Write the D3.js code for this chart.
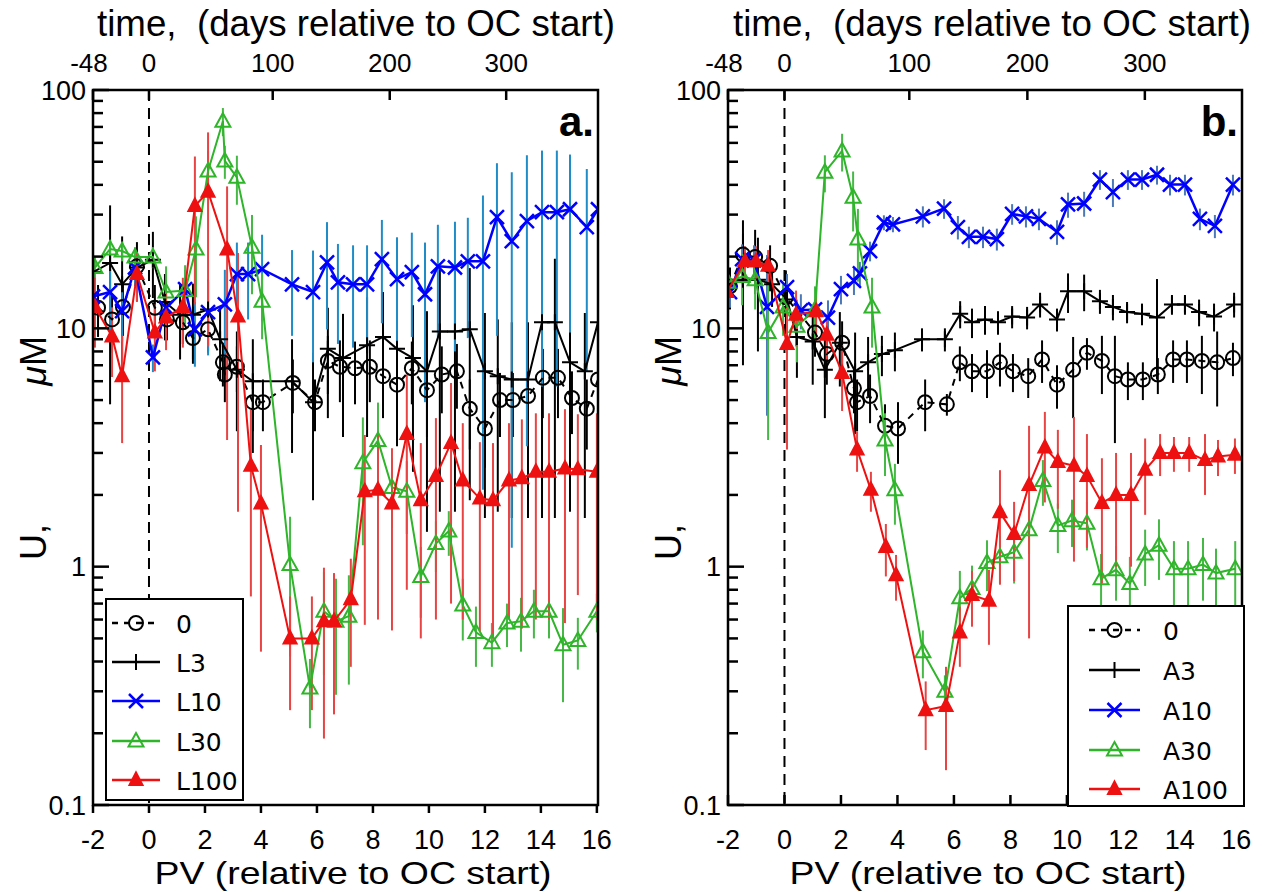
<!DOCTYPE html>
<html>
<head>
<meta charset="utf-8">
<script src="https://cdn.jsdelivr.net/npm/d3@7"></script>
<style>
  body { margin: 0; background: #fff; }
  text { font-family: "Liberation Sans", Arial, Helvetica, sans-serif; }
</style>
</head>
<body>
<div id="chart"></div>
<script>
// ---- axis ticks ----
const xTicks = [-2, 0, 2, 4, 6, 8, 10, 12, 14, 16];
const yTicks = [0.1, 1, 10, 100];
const yTickLabels = ["0.1", "1", "10", "100"];
const topDays = [-48, 0, 100, 200, 300];
const topPV = [-2, 0, 4.42, 8.6, 12.76];

// ---- panel a ----
const pvA0 = [-1.82,-1.32,-0.93,-0.43,0.21,0.64,1.21,1.57,2.11,2.64,2.71,3.14,3.71,4.07,5.14,5.93,6.39,6.82,7.36,7.89,8.36,8.86,9.39,9.93,10.46,11.0,11.46,12.0,12.54,13.0,13.54,14.07,14.61,15.11,15.64,16.04];
const uA0  = [12.2,10.9,12.3,18.2,12.2,10.9,10.6,9.1,9.9,7.2,6.4,6.9,4.9,4.9,5.9,4.9,7.3,6.9,6.8,6.9,6.3,5.8,6.8,5.5,6.4,6.6,4.6,3.8,5.0,5.0,5.2,6.2,6.2,5.1,4.6,6.1];
const errA0 = [3,3,3,3,3,2,2,2,2,1.5,1.5,1.5,1.2,1.2,1.5,1.2,2,2,2,2,2,2,2,2,2,2,1.5,1.2,1.5,1.5,1.5,2,2,1.5,1.5,2];

const pvA3 = [-2.0,-1.39,-0.96,-0.43,0.14,0.57,1.11,1.57,2.11,2.54,3.14,3.71,5.11,5.86,6.39,6.93,7.79,8.36,8.86,9.43,9.93,10.39,10.93,11.46,12.0,12.46,12.96,13.54,14.04,14.5,15.04,15.57,16.04];
const uA3  = [17.2,18.8,15.3,18,19.4,12.9,11.4,11.4,12,9.0,6.7,6.0,6.0,4.9,8.2,7.5,8.5,9.2,8.2,7.5,6.6,9.7,9.7,9.9,6.6,6.3,6.1,6.1,10.6,10.6,7.2,6.6,10.6];
const errA3 = [5,14,9,5,6,4,4,4,4,3,3,3,3,3,4,4,5,5,5,5,5.2,8,8,8,5,4.6,4.5,4.5,9,9,5.5,5,9];

const pvA10 = [-2.0,-1.39,-0.96,-0.5,0.14,0.61,1.29,1.64,2.11,2.71,3.14,3.54,4.04,5.11,5.86,6.36,6.75,7.29,7.79,8.32,8.86,9.39,9.86,10.32,10.93,11.39,11.93,12.43,12.96,13.5,14.04,14.57,15.04,15.64,16.04];
const uA10  = [13.6,14.2,11.8,18.0,7.55,12.2,14.6,9.9,11.7,12.6,16.9,16.9,17.7,15.3,14.2,18.9,15.6,15.3,15.3,19.5,16.1,17.2,13.9,18.2,18.0,19.1,19.1,29.3,23.2,28.2,30.7,30.7,31.6,26.6,31.6];
const errA10 = [4,5,3,3,1,3,3,3,4,5,6,6,7,6,7,9,7,7,7,9,8,8,9,9,10,10,17,20,22,25,25,25,22,20,25];

const pvA30 = [-1.93,-1.39,-0.96,-0.5,0.14,0.61,1.29,1.68,2.11,2.64,2.71,3.14,3.68,4.04,5.04,5.75,6.25,6.68,7.14,7.64,8.18,8.68,9.21,9.71,10.25,10.71,11.21,11.68,12.25,12.79,13.29,13.75,14.29,14.79,15.32,16.0];
const uA30  = [18.0,21.5,21.1,19.9,19.9,14.2,14.4,21.5,45.7,74,50.4,43,21.9,13.0,1.02,0.31,0.65,0.59,0.62,2.73,3.38,2.15,2.07,0.91,1.25,1.41,0.69,0.53,0.48,0.58,0.59,0.65,0.65,0.47,0.49,0.65];
const errA30 = [2,2,2,2,2,4,4,8,10,10,8,10,8,4,0.6,0.1,0.3,0.3,0.3,1.5,1.5,0.7,0.7,0.3,0.3,0.3,0.2,0.15,0.1,0.12,0.15,0.15,0.15,0.2,0.12,0.12];

const pvA100 = [-1.93,-1.32,-0.96,-0.43,0.21,0.61,1.21,1.64,2.11,2.79,3.18,3.64,4.0,5.04,5.82,6.25,6.61,7.21,7.71,8.18,8.68,9.21,9.71,10.25,10.79,11.21,11.82,12.29,12.86,13.32,13.82,14.29,14.86,15.32,16.0];
const uA100  = [12.3,9.25,6.3,16.9,9.6,11.1,12.3,32.6,37.4,21.4,11.2,2.65,1.84,0.50,0.50,0.59,0.59,0.73,2.07,2.1,1.84,3.6,1.9,2.4,3.3,2.3,1.93,1.9,2.3,2.35,2.5,2.5,2.58,2.56,2.5];
const errA100 = [4,3,3,4,3,3,4,20,29,18,9.5,1.9,1.4,0.25,0.25,0.4,0.35,0.35,1.5,1.5,1.3,2.8,1.4,1.8,2.6,1.7,1.4,1.4,1.7,1.8,1.9,1.9,2.0,1.8,1.9];

// ---- panel b ----
const pvB0 = [-1.93,-1.47,-1.04,-0.51,0.05,1.08,1.5,2.04,2.46,2.57,3.03,3.56,4.02,4.98,5.75,6.21,6.64,7.17,7.63,8.09,8.63,9.12,9.65,10.22,10.71,11.24,11.7,12.16,12.69,13.22,13.76,14.25,14.78,15.32,15.88];
const uB0  = [15.0,20.4,19.9,18.3,13.5,9.6,7.8,8.7,5.6,4.9,5.2,3.9,3.8,4.9,4.8,7.2,6.6,6.6,7.2,6.6,6.3,7.4,5.8,6.7,7.9,7.3,6.3,6.1,6.1,6.4,7.4,7.4,7.3,7.2,7.5];
const errB0 = [3,8,6,4,4,2,2,2,1.2,1.2,1.2,0.9,1.1,1.2,0.5,1.2,1.2,1.5,1.5,1.2,1.2,1.5,1.2,2.5,1.2,2,3,1.1,1.1,1.1,1.5,1.5,2,2.5,1.2];

const pvB3 = [-2.0,-1.47,-0.94,-0.44,0.09,0.44,1.0,1.43,1.96,2.5,2.96,3.45,3.91,4.87,5.68,6.22,6.64,7.1,7.56,8.06,8.59,9.05,9.65,10.04,10.61,11.17,11.63,12.13,12.66,13.19,13.72,14.18,14.68,15.21,15.92];
const uB3  = [15.3,16.0,16.0,15.3,13.2,9.2,8.8,6.7,8.7,6.6,7.2,7.8,8.1,9.0,9.0,11.5,10.6,10.9,10.6,11.2,11.1,12.6,10.9,14.3,14.3,13.0,12.3,11.7,11.5,11.1,12.6,12.6,11.7,11.2,12.6];
const errB3 = [3,9,8,3,3,3,3,2.5,3,3,2,1.5,1.5,1,1,1.5,1.5,1.5,1.2,1.2,1.2,1.5,1.2,2.7,2.5,1.5,1.5,1.2,1.2,5,1.2,1.2,1.5,1.5,1.5];

const pvB10 = [-1.93,-1.5,-1.08,-0.62,0.09,0.58,1.08,1.54,2.0,2.46,2.67,3.03,3.52,3.84,4.9,5.65,6.14,6.53,7.03,7.52,8.06,8.55,9.01,9.65,10.04,10.61,11.17,11.63,12.16,12.66,13.19,13.65,14.18,14.71,15.24,15.88];
const uB10  = [14.2,19.5,19.3,12.3,14.9,11.9,12.0,11.1,14.6,15.8,17.0,21.1,27.8,27.3,29.5,31.8,26.6,24.2,24.2,23.7,30.2,29.5,28.8,25.4,33.1,33.4,42.1,37.3,42.1,42.1,44.1,40.1,40.1,28.8,26.9,40.1];
const errB10 = [2,3,3,8,2,2,2,2,2,2,2,2,2,2,3,3,3,2.5,2.5,2.5,3,3,3,3,4,4,4,5,4,4,4,4,4,3,3,4];

const pvB30 = [-2.0,-1.5,-1.04,-0.58,-0.05,0.44,1.08,1.43,2.04,2.43,2.6,3.1,3.56,3.91,4.9,5.68,6.21,6.64,7.17,7.63,8.13,8.66,9.15,9.68,10.18,10.71,11.21,11.74,12.23,12.77,13.26,13.79,14.29,14.82,15.28,15.96];
const uB30  = [15.6,16.5,16.0,9.6,12.3,10.2,12.0,45.2,55.5,35.5,23.7,12.3,3.4,2.1,0.44,0.30,0.74,0.81,1.04,1.1,1.15,1.43,2.3,1.49,1.56,1.52,0.89,0.97,0.85,1.13,1.23,0.98,0.98,1.02,0.94,0.98];
const errB30 = [3,4,4,6.2,3,3,3,8,10,10,8,4,1,0.6,0.1,0.05,0.22,0.2,0.25,0.25,0.3,0.3,0.5,0.35,0.35,0.35,0.24,0.25,0.25,0.3,0.35,0.3,0.3,0.3,0.25,0.3];

const pvB100 = [-2.04,-1.4,-1.01,-0.58,0.09,0.41,1.12,1.5,2.04,2.57,3.06,3.59,3.95,5.0,5.72,6.21,6.64,7.24,7.63,8.13,8.66,9.22,9.68,10.25,10.71,11.24,11.74,12.27,12.77,13.3,13.79,14.33,14.89,15.35,15.95];
const uB100  = [14.2,19.1,19.1,18.3,8.6,11.4,11.8,9.4,6.5,3.1,2.1,1.21,0.92,0.25,0.26,0.53,0.76,0.72,1.69,1.37,2.2,3.16,2.75,2.65,2.4,1.85,2.0,2.0,2.55,3.0,3.0,3.0,2.8,2.9,2.95];
const errB100 = [3,3,3,3,5.5,3,3,2,2,0.6,0.4,0.3,0.2,0.08,0.12,0.15,0.2,0.25,0.85,0.5,1.7,1.3,1.0,1.6,1.2,1.0,1.0,1.0,0.9,0.6,0.5,0.5,0.8,0.5,0.5];

// ---- styles ----
const markerPath = {
  plus: "M-8,0H8M0,-8V8",
  cross: "M-7,-7L7,7M-7,7L7,-7",
  triOpen: "M0,-8L7.5,5.5L-7.5,5.5Z",
  triFill: "M0,-7.5L6.5,5L-6.5,5Z"
};

function mkSeries(names, pvs, us, errs, barColors) {
  const lineColors = ["#000", "#000", "#0000ff", "#2fb52a", "#ee1111"];
  const markers = ["circle", "plus", "cross", "triOpen", "triFill"];
  return names.map((n, i) => ({
    name: n, pv: pvs[i], u: us[i], err: errs[i],
    line: lineColors[i], bar: barColors[i], marker: markers[i],
    dash: i === 0 ? "7,6" : null
  }));
}

const panels = [
  {
    x0: 93, x1: 598, dom: [-2, 16.04], label: "a.", tickOut: true,
    titleX: 97, xTitleX: 353,
    series: mkSeries(["0", "L3", "L10", "L30", "L100"],
      [pvA0, pvA3, pvA10, pvA30, pvA100], [uA0, uA3, uA10, uA30, uA100],
      [errA0, errA3, errA10, errA30, errA100],
      ["#000", "#000", "#1f8cc8", "#45b845", "#e84444"]),
    legend: {x: 106, y: 599, w: 137, h: 201, rowY: [623, 662, 701, 741, 780], lx0: 112, lx1: 160, tx: 176}
  },
  {
    x0: 728, x1: 1242, dom: [-2, 16.2], label: "b.", tickOut: false,
    titleX: 733, xTitleX: 988,
    series: mkSeries(["0", "A3", "A10", "A30", "A100"],
      [pvB0, pvB3, pvB10, pvB30, pvB100], [uB0, uB3, uB10, uB30, uB100],
      [errB0, errB3, errB10, errB30, errB100],
      ["#000", "#000", "#4a78b8", "#45b845", "#e84444"]),
    legend: {x: 1068, y: 606, w: 176, h: 200, rowY: [630, 670, 710, 750, 789], lx0: 1089, lx1: 1140, tx: 1163}
  }
];

const W = 1270, H = 892, plotTop = 90, plotBottom = 805;
const svg = d3.select("#chart").append("svg").attr("width", W).attr("height", H);

const y = d3.scaleLog().domain([0.1, 100]).range([plotBottom, plotTop]);

function drawMarker(g, type, color, cx, cy) {
  if (type === "circle") {
    g.append("circle").attr("cx", cx).attr("cy", cy).attr("r", 7)
      .attr("fill", "none").attr("stroke", color).attr("stroke-width", 2);
  } else {
    g.append("path").attr("d", markerPath[type])
      .attr("transform", `translate(${cx},${cy})`)
      .attr("fill", type === "triFill" ? color : "none")
      .attr("stroke", color).attr("stroke-width", type === "cross" ? 2.5 : 2)
      .attr("stroke-linejoin", "miter");
  }
}

panels.forEach((p, pi) => {
  const x = d3.scaleLinear().domain(p.dom).range([p.x0, p.x1]);
  const g = svg.append("g");

  const clipId = "clip" + pi;
  svg.append("clipPath").attr("id", clipId).append("rect")
    .attr("x", p.x0).attr("y", plotTop).attr("width", p.x1 - p.x0).attr("height", plotBottom - plotTop);

  // OC start line
  g.append("line").attr("x1", x(0)).attr("x2", x(0)).attr("y1", plotTop).attr("y2", plotBottom)
    .attr("stroke", "#000").attr("stroke-width", 2).attr("stroke-dasharray", "11,7");

  const data = g.append("g").attr("clip-path", `url(#${clipId})`);

  // error bars
  p.series.forEach(s => {
    s.pv.forEach((v, i) => {
      const lo = Math.max(s.u[i] - s.err[i], 0.1), hi = s.u[i] + s.err[i];
      data.append("line").attr("x1", x(v)).attr("x2", x(v))
        .attr("y1", y(lo)).attr("y2", y(hi))
        .attr("stroke", s.bar).attr("stroke-width", 2);
    });
  });

  // lines + markers
  p.series.forEach(s => {
    const pts = s.pv.map((v, i) => [v, s.u[i]]);
    data.append("path").datum(pts)
      .attr("d", d3.line().x(d => x(d[0])).y(d => y(d[1])))
      .attr("fill", "none").attr("stroke", s.line)
      .attr("stroke-width", s.name.endsWith("10") ? 2.5 : 2)
      .attr("stroke-dasharray", s.dash);
    pts.forEach(d => drawMarker(data, s.marker, s.line, x(d[0]), y(d[1])));
  });

  // frame
  g.append("rect").attr("x", p.x0).attr("y", plotTop).attr("width", p.x1 - p.x0).attr("height", plotBottom - plotTop)
    .attr("fill", "none").attr("stroke", "#000").attr("stroke-width", 2.5);

  // y ticks (log, inward)
  y.ticks(30).forEach(t => {
    const major = yTicks.some(m => Math.abs(m - t) < 1e-9);
    g.append("line").attr("x1", p.x0).attr("x2", p.x0 + (major ? 16 : 10))
      .attr("y1", y(t)).attr("y2", y(t)).attr("stroke", "#000").attr("stroke-width", 2.5);
  });
  yTicks.forEach((t, i) => {
    g.append("text").attr("x", p.x0 - 7).attr("y", y(t)).attr("dy", "0.36em")
      .attr("text-anchor", "end").style("font-size", "27px").text(yTickLabels[i]);
  });

  // bottom ticks
  xTicks.forEach(t => {
    g.append("line").attr("x1", x(t)).attr("x2", x(t))
      .attr("y1", plotBottom).attr("y2", p.tickOut ? plotBottom + 8 : plotBottom - 10)
      .attr("stroke", "#000").attr("stroke-width", 2.5);
    g.append("text").attr("x", x(t)).attr("y", 849).attr("text-anchor", "middle")
      .style("font-size", "27px").text(t);
  });

  // top ticks (days)
  topPV.forEach((t, i) => {
    g.append("line").attr("x1", x(t)).attr("x2", x(t)).attr("y1", plotTop).attr("y2", plotTop + 10)
      .attr("stroke", "#000").attr("stroke-width", 2.5);
    g.append("text").attr("x", x(t) + (i === 0 ? -4 : 0)).attr("y", 72).attr("text-anchor", "middle")
      .style("font-size", "26px").text(topDays[i]);
  });

  // titles
  g.append("text").attr("x", p.titleX).attr("y", 36)
    .attr("xml:space", "preserve").attr("textLength", 518).attr("lengthAdjust", "spacingAndGlyphs")
    .style("font-size", "36px").text("time,  (days relative to OC start)");
  g.append("text").attr("x", p.xTitleX).attr("y", 884).attr("text-anchor", "middle")
    .attr("textLength", 397).attr("lengthAdjust", "spacingAndGlyphs")
    .style("font-size", "32px").text("PV (relative to OC start)");

  // y title: "U," and "μM" sit far apart in the reference
  const ytx = p.x0 - 47;
  g.append("text").attr("transform", `translate(${ytx},560) rotate(-90)`)
    .style("font-size", "36px").text("U,");
  const um = g.append("text").attr("transform", `translate(${ytx},336) rotate(-90)`)
    .attr("text-anchor", "end").style("font-size", "36px");
  um.append("tspan").style("font-style", "italic").text("\u03bc");
  um.append("tspan").text("M");

  g.append("text").attr("x", p.x1 - 4).attr("y", 136).attr("text-anchor", "end")
    .style("font-size", "42px").style("font-weight", "bold").text(p.label);

  // legend
  const L = p.legend;
  const lg = g.append("g");
  lg.append("rect").attr("x", L.x).attr("y", L.y).attr("width", L.w).attr("height", L.h)
    .attr("fill", "#fff").attr("stroke", "#000").attr("stroke-width", 2);
  p.series.forEach((s, i) => {
    const ry = L.rowY[i];
    lg.append("line").attr("x1", L.lx0).attr("x2", L.lx1).attr("y1", ry).attr("y2", ry)
      .attr("stroke", s.line).attr("stroke-width", 2.5).attr("stroke-dasharray", s.dash ? "6,6" : null);
    drawMarker(lg, s.marker, s.line, (L.lx0 + L.lx1) / 2, ry);
    lg.append("text").attr("x", L.tx).attr("y", ry).attr("dy", "0.38em")
      .style("font-family", "'DejaVu Sans', Verdana, sans-serif").style("font-size", "25px").text(s.name);
  });
});
</script>
</body>
</html>
